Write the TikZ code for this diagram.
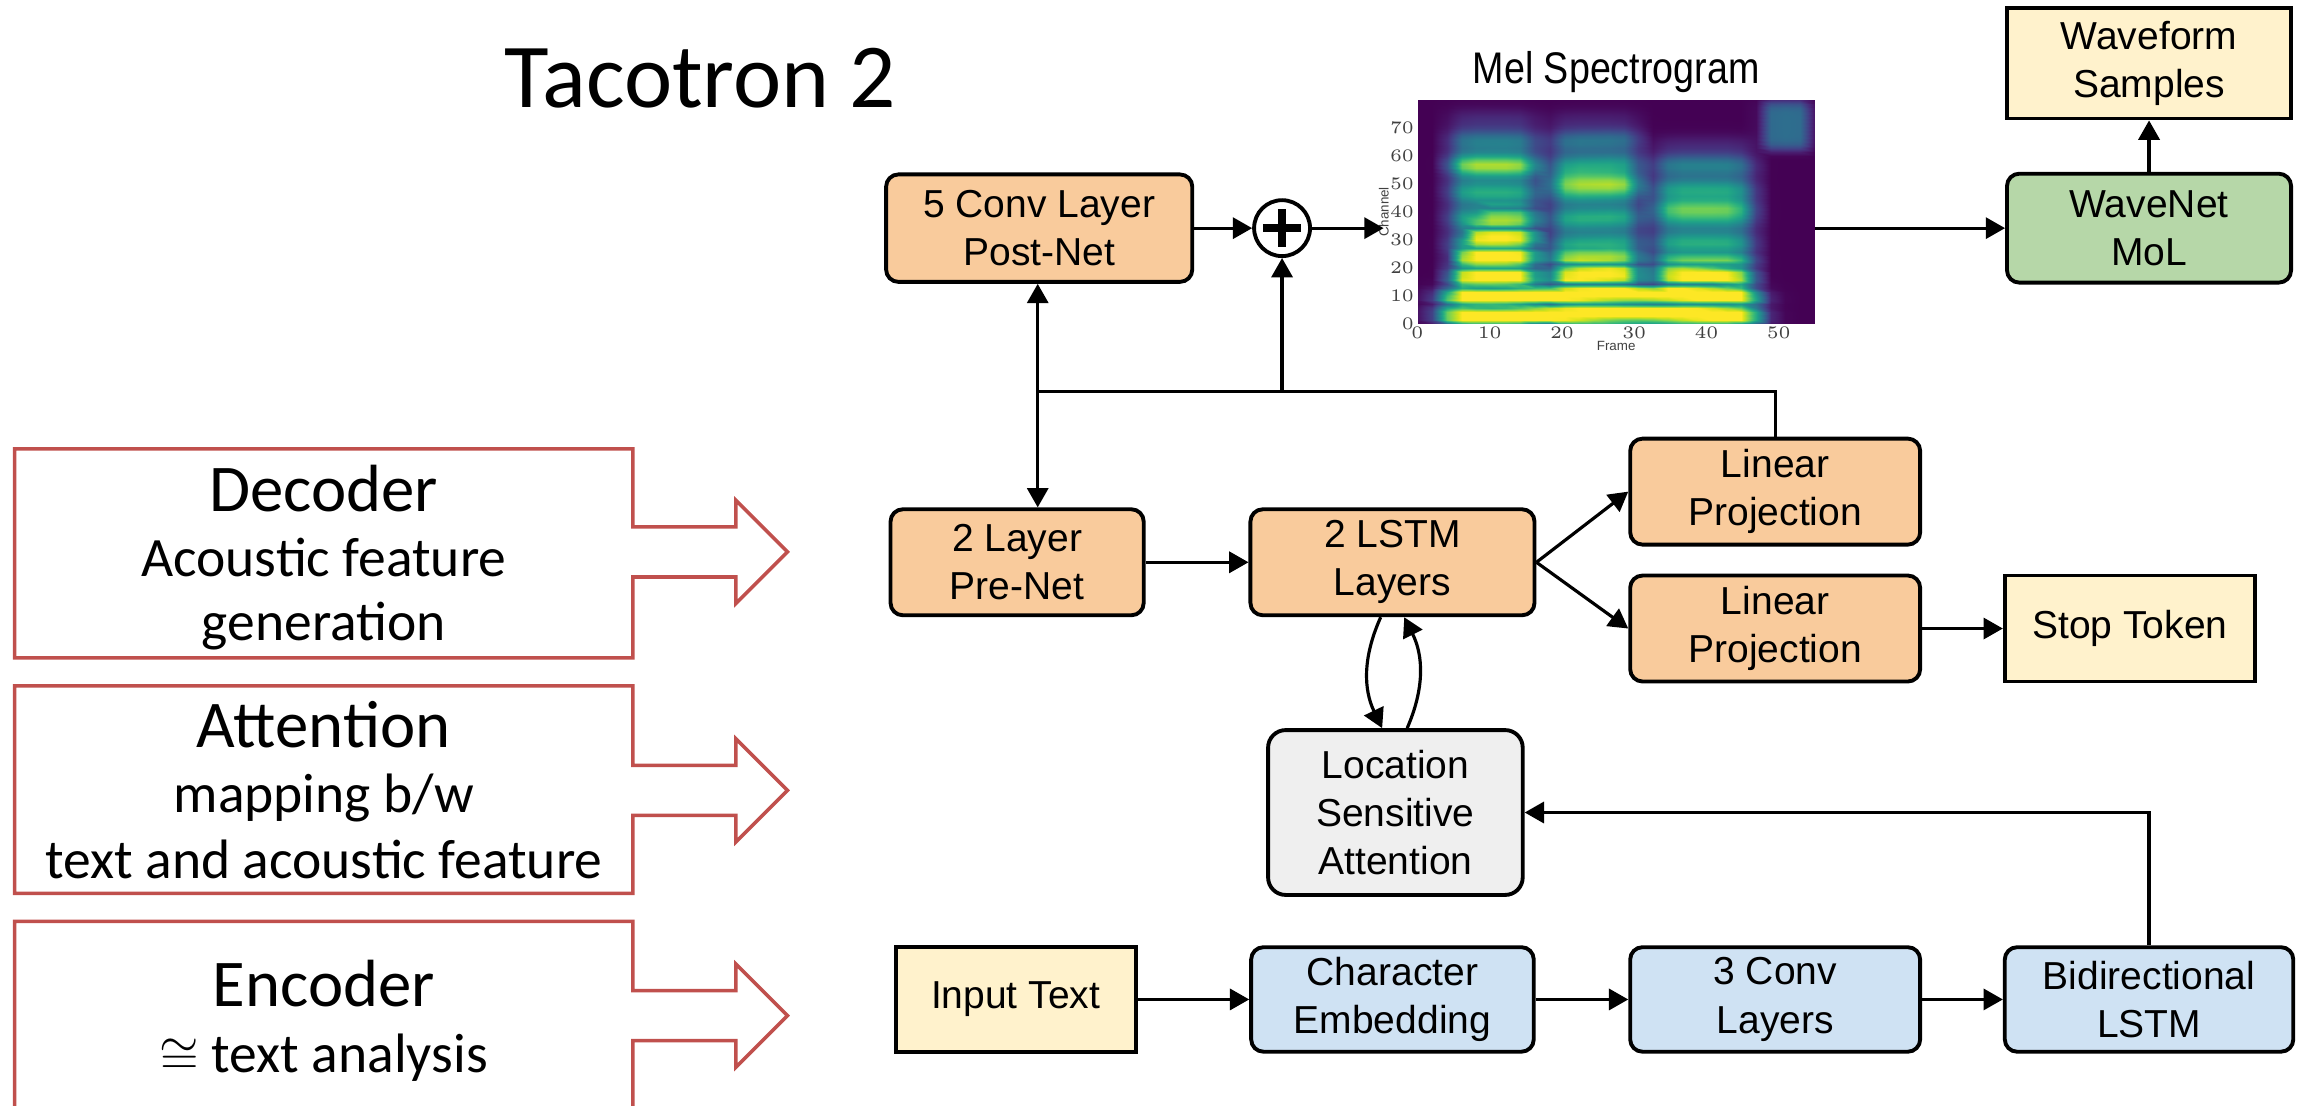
\documentclass[tikz,border=0pt]{standalone}
\usepackage{fontspec}
\setmainfont{Liberation Sans}
\newfontfamily\slidefont{Carlito}
\newfontfamily\narrowfont[FakeStretch=0.85]{Liberation Sans}
\usepackage{pgfplots}
\pgfplotsset{compat=1.18}
\usetikzlibrary{arrows.meta,calc}

\definecolor{peach}{RGB}{249,203,156}
\definecolor{skyblue}{RGB}{207,226,243}
\definecolor{sage}{RGB}{182,215,168}
\definecolor{cream}{RGB}{255,242,204}
\definecolor{ash}{RGB}{239,239,239}
\definecolor{brick}{RGB}{192,80,77}

\tikzset{
  blk/.style={draw, line width=1.1pt, rounded corners=3.5pt, align=center, inner sep=0pt,
    font=\fontsize{11.1}{13.7}\selectfont},
  sq/.style={blk, sharp corners},
  boxdim/.style 2 args={minimum width=#1*0.1472mm, minimum height=#2*0.1472mm},
  link/.style={line width=0.9pt},
  callout/.style={draw=brick, line width=1pt},
  headline/.style={font=\slidefont\fontsize{19}{23}\selectfont, inner sep=0pt},
  subline/.style={font=\slidefont\fontsize{15.8}{19}\selectfont, inner sep=0pt},
}

% box with a fat arrow on its right side: top, bottom, arrow axis
\newcommand{\sidearrow}[3]{%
  \draw[callout] (10,#1) -- (430,#1) -- (430,#3-17) -- (500,#3-17) -- (500,#3-35)
    -- (535,#3) -- (500,#3+35) -- (500,#3+17) -- (430,#3+17) -- (430,#2) -- (10,#2) -- cycle;}

\begin{document}
\begin{tikzpicture}[x=0.1472mm, y=-0.1472mm, >={Triangle[length=5.5pt,width=6pt]}]
\useasboundingbox (0,0) rectangle (1568,751);
\clip (0,0) rectangle (1568,751);

\node[anchor=base, font=\slidefont\fontsize{26}{30}\selectfont, inner sep=0pt] (title) at (476,72.9) {Tacotron 2};

% stage labels
\sidearrow{305}{447}{375}
\sidearrow{466}{607}{537}
\sidearrow{626}{800}{690}
\node[headline, anchor=base] (dec1) at (220,347.6) {Decoder};
\node[subline, anchor=base] (dec2) at (220,391.8) {Acoustic feature};
\node[subline, anchor=base] (dec3) at (220,434.8) {generation};
\node[headline, anchor=base] (att1) at (220,508) {Attention};
\node[subline, anchor=base] (att2) at (220,552) {mapping b/w};
\node[subline, anchor=base] (att3) at (220,596.6) {text and acoustic feature};
\node[headline, anchor=base] (enc1) at (220,684) {Encoder};
\node[subline, anchor=base] (enc2) at (220,728.7) {$\cong$ text analysis};

% decoder
\node[blk, fill=peach, boxdim={208}{73}] (postnet) at (706,155) {5 Conv Layer\\Post-Net};
\node[circle, draw, line width=1.1pt, fill=white, inner sep=0pt, minimum size=38*0.1472mm] (plus) at (871,155) {};
\draw[line width=2.4pt] ($(plus)+(-13,0)$) -- ($(plus)+(13,0)$);
\draw[line width=2.4pt] ($(plus)+(0,-13)$) -- ($(plus)+(0,13)$);
\node[blk, fill=peach, boxdim={172}{72}] (prenet) at (691,382) {2 Layer\\Pre-Net};
\node[blk, fill=peach, boxdim={193}{72}] (lstm) at (946,382) {2 LSTM\\Layers};
\node[blk, fill=peach, boxdim={197}{72}] (linA) at (1206,334) {Linear\\Projection};
\node[blk, fill=peach, boxdim={197}{72}] (linB) at (1206,427) {Linear\\Projection};
\node[sq, fill=cream, boxdim={170}{72}] (stop) at (1447,427) {Stop Token};
\node[blk, fill=ash, rounded corners=5pt, boxdim={173}{112}] (attn) at (948,552) {Location\\Sensitive\\Attention};

% encoder
\node[sq, fill=cream, boxdim={163}{71}] (input) at (690,679) {Input Text};
\node[blk, fill=skyblue, boxdim={192}{71}] (charemb) at (946,679) {Character\\Embedding};
\node[blk, fill=skyblue, boxdim={197}{71}] (conv) at (1206,679) {3 Conv\\Layers};
\node[blk, fill=skyblue, boxdim={196}{71}] (bilstm) at (1460,679) {Bidirectional\\LSTM};

% vocoder
\node[blk, fill=sage, boxdim={193}{74}] (wavenet) at (1460,155) {WaveNet\\MoL};
\node[sq, fill=cream, boxdim={193}{75}] (waveform) at (1460,43) {Waveform\\Samples};

% mel spectrogram (lower left corner of the plot at 963,220)
\node[anchor=base, font=\narrowfont\fontsize{12.6}{14}\selectfont, inner sep=0pt] (meltitle) at (1098,56.6) {Mel Spectrogram};
\begin{scope}[x=1cm, y=1cm]
\begin{axis}[at={(141.75mm,-32.38mm)}, anchor=south west, scale only axis,
  width=39.74mm, height=22.37mm,
  xmin=0, xmax=55, ymin=0, ymax=80, view={0}{90},
  colormap/viridis, point meta min=0, point meta max=1,
  xtick={0,10,...,50}, ytick={0,10,...,70},
  axis line style={draw=none}, tick style={draw=none},
  tick label style={font=\fontsize{3.6}{4}\selectfont, text=darkgray, inner sep=0.8pt},
  xlabel={Frame}, ylabel={Channel},
  label style={font=\fontsize{3.8}{4}\selectfont, text=darkgray},
  xlabel style={yshift=3.5pt}, ylabel style={yshift=-4pt},
  declare function={
    pa(\u)=\u*\u*\u*\u*\u*\u;
    pb(\u)=\u*\u*\u*\u*\u*\u*\u*\u;
    pc(\u)=pa(\u)*pa(\u);
    gs(\u)=exp(-min(\u,40));
    sa(\t)=gs(pa((\t-10.5)/6.2));
    sb(\t)=gs(pa((\t-24.5)/6.3));
    sc(\t)=gs(pa((\t-39.5)/7));
    voiced(\t)=gs(pb((\t-25)/21.5));
    topa(\t)=18+28*min(1,max(0,(\t-3)/6));
    stripe(\t,\c)=1-0.7*pa(0.5+0.5*cos(360*\c/7+30*sin(9*\t)));
    streak(\t,\c)=0.8+0.35*(0.5+0.5*cos(360*\c/9.5+20*sin(7*\t)));
    body(\t,\c)=sa(\t)*gs(pc(\c/71))+sb(\t)*gs(pc(\c/70))+sc(\t)*gs(pc(\c/62));
    low(\t,\c)=sa(\t)*gs(pb(\c/topa(\t)))+sb(\t)*gs(pb(\c/30))+sc(\t)*gs(pb(\c/27))
      +voiced(\t)*gs(pa(\c/13));
    band(\t,\c)=0.4*sb(\t)*gs(((\c-51)/3.5)^2)+0.3*sa(\t)*gs(((\c-57)/4)^2)
      +0.3*sc(\t)*gs(((\c-42)/3)^2);
    tail(\t,\c)=0.36*gs(pa((\t-51)/3.5))*gs(pa((\c-71)/9));
  }]
\addplot3[surf, shader=interp, domain=0:55, y domain=0:80, samples=28, samples y=57]
  {max(0.55*body(x,y)*streak(x,y), 1.05*min(low(x,y),1)*stripe(x,y)) + band(x,y) + tail(x,y)};
\end{axis}
\end{scope}
\coordinate (melin) at (940,155);
\coordinate (melout) at (1233,155);

% feedback from the frame projection
\coordinate (fbl) at (705,266);
\coordinate (fbm) at (871,266);
\draw[link] (linA.north) |- (fbl);
\draw[link,->] (fbl) -- (fbl |- postnet.south);
\draw[link,->] (fbl) -- (fbl |- prenet.north);
\draw[link,->] (fbm) -- (plus.south);

\draw[link,->] (postnet) -- (plus);
\draw[link,->] (plus) -- (melin);
\draw[link,->] (melout) -- (wavenet);
\draw[link,->] (wavenet) -- (waveform);
\draw[link,->] (prenet) -- (lstm);
\draw[link,->] (lstm.east) -- (linA.west);
\draw[link,->] (lstm.east) -- (linB.west);
\draw[link,->] (linB) -- (stop);
\draw[link,->] ($(lstm.south)+(-8,0)$) to[bend right=25] ($(attn.north)+(-9,0)$);
\draw[link,->] ($(attn.north)+(8,0)$) to[bend right=25] ($(lstm.south)+(8,0)$);
\draw[link,->] (input) -- (charemb);
\draw[link,->] (charemb) -- (conv);
\draw[link,->] (conv) -- (bilstm);
\draw[link,->] (bilstm.north) |- (attn.east);
\end{tikzpicture}
\end{document}
